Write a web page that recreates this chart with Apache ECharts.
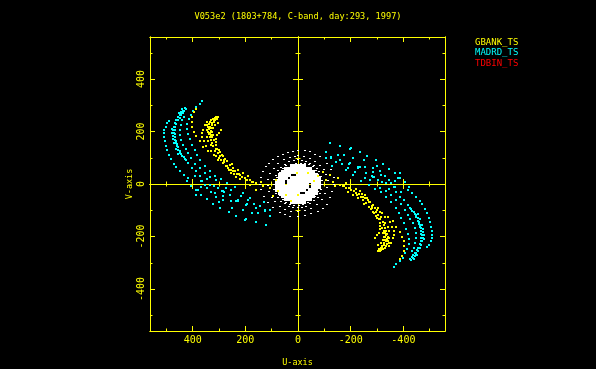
<!DOCTYPE html>
<html><head><meta charset="utf-8">
<style>html,body{margin:0;padding:0;background:#000}#c{width:596px;height:369px}</style>
<script src="https://cdn.jsdelivr.net/npm/echarts@6/dist/echarts.min.js"></script>
</head><body><div id="c"></div>
<script>
const titleText = "V053e2 (1803+784, C-band, day:293, 1997)";
const stationNames = ["GBANK_TS", "MADRD_TS", "TDBIN_TS"];
const majorTicks = [-400, -200, 0, 200, 400];
const minorTicks = [-500, -300, -100, 100, 300, 500];

const whiteRings = [
[-28,127],[0,127],[19,124],[38,120],[57,112],[76,105],[95,93],[110,80],[123,65],[133,48],[142,23],[143,-3],[139,-22],[130,-47],[114,-72],[95,-91],[70,-110],[51,-117],[32,-123],[0,-123],[-25,-121],[-51,-114],[-76,-104],[-95,-94],[-110,-79],[-123,-53],[-130,-28],[-137,-3],[-137,23],[-127,55],[-110,80],[-82,105],[-63,114],[-44,124],
[0,108],[-22,105],[-45,98],[-65,85],[-85,72],[-98,55],[-108,35],[-112,12],[-110,-12],[-103,-35],[-90,-58],[-72,-78],[-50,-92],[-28,-100],[0,-105],[25,-103],[48,-96],[68,-85],[88,-68],[100,-50],[110,-28],[115,-5],[113,18],[105,40],[92,60],[75,78],[55,92],[32,100],[12,106],
[0,92],[-16,90],[-32,86],[-47,80],[-60,70],[-72,58],[-80,46],[-87,30],[-92,14],[-92,-3],[-88,-20],[-82,-36],[-74,-50],[-62,-64],[-47,-76],[-32,-84],[-15,-89],[2,-90],[19,-88],[35,-84],[50,-76],[63,-66],[75,-52],[84,-37],[90,-20],[93,-2],[91,16],[85,32],[76,50],[63,64],[49,76],[34,84],[17,90],
[8,80],[-10,80],[-26,78],[-42,74],[-56,66],[-68,52],[-76,38],[-81,20],[-82,4],[-80,-14],[-74,-30],[-64,-48],[-50,-60],[-36,-72],[-20,-78],[-4,-81],[14,-80],[30,-77],[44,-70],[58,-58],[70,-44],[78,-28],[82,-10],[83,8],[79,26],[70,42],[58,58],[44,70],[28,76]
];
const whiteCore = [
[-23,68],[-11,68],[0,68],[11,68],[23,68],
[-46,57],[-34,57],[-23,57],[-11,57],[0,57],[11,57],[23,57],[34,57],[46,57],
[-57,46],[-46,46],[-34,46],[-23,46],[-11,46],[0,46],[11,46],[23,46],[34,46],[46,46],[57,46],
[-68,34],[-57,34],[-46,34],[-34,34],[-23,34],[-11,34],[0,34],[34,34],[46,34],[57,34],[68,34],
[-68,23],[-57,23],[-46,23],[-34,23],[-23,23],[-11,23],[0,23],[11,23],[23,23],[46,23],[57,23],[68,23],[-80,23],
[-80,11],[-68,11],[-57,11],[-46,11],[-34,11],[-23,11],[-11,11],[0,11],[11,11],[23,11],[34,11],[57,11],[68,11],[80,11],
[-80,0],[-68,0],[-57,0],[-34,0],[-23,0],[-11,0],[0,0],[11,0],[23,0],[34,0],[57,0],[68,0],[80,0],
[-80,-11],[-68,-11],[-57,-11],[-34,-11],[-23,-11],[-11,-11],[0,-11],[11,-11],[23,-11],[34,-11],[46,-11],[57,-11],[68,-11],[80,-11],
[-68,-23],[-57,-23],[-46,-23],[-23,-23],[-11,-23],[0,-23],[11,-23],[23,-23],[34,-23],[46,-23],[57,-23],[68,-23],[80,-23],
[-68,-34],[-57,-34],[-46,-34],[-34,-34],[0,-34],[11,-34],[23,-34],[34,-34],[46,-34],[57,-34],[68,-34],
[-57,-46],[-46,-46],[-34,-46],[-23,-46],[-11,-46],[0,-46],[11,-46],[23,-46],[34,-46],[46,-46],[57,-46],
[-46,-57],[-34,-57],[-23,-57],[-11,-57],[0,-57],[11,-57],[23,-57],[34,-57],[46,-57],
[-23,-68],[-11,-68],[0,-68],[11,-68],[23,-68]
];
const madrdLeft = [
[490,241],[497,232],[503,219],[507,207],[509,194],[509,179],[506,162],[502,146],[497,130],[490,111],[483,95],[472,77],[462,63],[447,48],[433,34],[417,22],[405,-6],[386,-24],[367,-41],[345,-57],[322,-75],[295,-91],[263,-107],[234,-121],[200,-136],[160,-146],[122,-155],
[430,289],[436,280],[443,273],[449,264],[455,255],[462,245],[468,232],[472,219],[474,207],[472,194],[474,181],[468,168],[464,156],[459,143],[455,130],[449,118],[440,107],[430,95],[417,80],[401,60],[386,48],[373,31],[363,10],[335,-3],[303,-15],[284,-28],[259,-41],[227,-60],[196,-79],[160,-92],[126,-98],
[426,286],[432,277],[438,270],[444,261],[450,252],[457,242],[463,229],[467,216],[468,204],[467,191],[468,178],[463,165],[459,153],[454,140],[449,127],[443,114],[434,104],[424,92],
[478,210],[478,195],[476,170],[470,155],[452,270],[441,285],[446,268],[464,135],[455,115],
[433,257],[439,245],[445,226],[447,207],[447,188],[443,168],[436,149],[426,133],[417,118],[405,99],[392,77],[373,61],[354,41],[335,26],[310,14],
[363,317],[373,306],[386,295],[398,280],[408,264],[415,247],[420,229],[420,209],[417,191],[411,171],[402,149],[392,128],[382,109],[371,90],[354,69],[335,50],[316,31],[291,19],
[390,30],[370,12],[345,18],[320,-8],[280,-30],[255,-22],[235,-64],[215,-45],[190,-60],[175,-110],[146,-85],[107,-123],[105,-100],[250,-90],[285,-60],[310,-48],[330,-30],[210,-100],[130,-70],[270,5],[240,-12],
[386,-41],[421,10],[354,-3],[316,-34],[287,-28],[284,-47],[253,-66],[227,-66],[193,-75],[152,-111],[126,-104],[196,-133],[209,-34],[183,-53],[272,-15],[379,-22],[345,-15],[369,-12],[300,-70],[168,-78]
];
const madrdRight = [
[-490,-241],[-497,-232],[-503,-219],[-507,-207],[-509,-194],[-509,-179],[-506,-162],[-502,-146],[-497,-130],[-490,-111],[-483,-95],[-472,-77],[-462,-63],[-447,-48],[-433,-34],[-417,-22],[-405,6],[-386,24],[-367,41],[-345,57],[-322,75],[-295,91],[-263,107],[-234,121],[-200,136],[-160,146],[-122,155],
[-430,-289],[-436,-280],[-443,-273],[-449,-264],[-455,-255],[-462,-245],[-468,-232],[-472,-219],[-474,-207],[-472,-194],[-474,-181],[-468,-168],[-464,-156],[-459,-143],[-455,-130],[-449,-118],[-440,-107],[-430,-95],[-417,-80],[-401,-60],[-386,-48],[-373,-31],[-363,-10],[-335,3],[-303,15],[-284,28],[-259,41],[-227,60],[-196,79],[-160,92],[-126,98],
[-426,-286],[-432,-277],[-438,-270],[-444,-261],[-450,-252],[-457,-242],[-463,-229],[-467,-216],[-468,-204],[-467,-191],[-468,-178],[-463,-165],[-459,-153],[-454,-140],[-449,-127],[-443,-114],[-434,-104],[-424,-92],
[-478,-210],[-478,-195],[-476,-170],[-470,-155],[-452,-270],[-441,-285],[-446,-268],[-464,-135],[-455,-115],
[-433,-257],[-439,-245],[-445,-226],[-447,-207],[-447,-188],[-443,-168],[-436,-149],[-426,-133],[-417,-118],[-405,-99],[-392,-77],[-373,-61],[-354,-41],[-335,-26],[-310,-14],
[-363,-317],[-373,-306],[-386,-295],[-398,-280],[-408,-264],[-415,-247],[-420,-229],[-420,-209],[-417,-191],[-411,-171],[-402,-149],[-392,-128],[-382,-109],[-371,-90],[-354,-69],[-335,-50],[-316,-31],[-291,-19],
[-390,-30],[-370,-12],[-345,-18],[-320,8],[-280,30],[-255,22],[-235,64],[-215,45],[-190,60],[-175,110],[-146,85],[-107,123],[-105,100],[-250,90],[-285,60],[-310,48],[-330,30],[-210,100],[-130,70],[-270,-5],[-240,12],
[-386,41],[-421,-10],[-354,3],[-316,34],[-287,28],[-284,47],[-253,66],[-227,66],[-193,75],[-152,111],[-126,104],[-196,133],[-209,34],[-183,53],[-272,15],[-379,22],[-345,15],[-369,12],[-300,70],[-168,78]
];
const gbankLeft = [
[303,255],[310,257],[316,251],[322,247],[329,242],[335,236],[339,228],[341,219],[339,209],[341,200],[338,190],[335,179],[331,168],[328,158],[322,146],[314,242],[326,232],[333,217],[331,202],[329,187],[337,214],[334,195],[325,178],
[330,150],[340,165],[345,180],[346,205],[344,225],[330,215],[328,225],[320,235],[308,247],[318,240],
[291,204],[300,196],[306,185],[310,172],[312,160],[310,147],[306,133],
[303,232],[314,224],[321,213],[325,200],[322,185],[319,168],
[345,238],[354,226],[360,207],[364,194],[363,179],[358,162],[350,143],[341,124],
[386,285],[395,273],[401,257],[403,238],[402,219],[395,200],[386,181],[373,162],[360,141],
[316,124],[303,118],[310,105],[297,105],[291,92],[303,90],[282,82],[269,86],[274,69],[259,73],[262,52],[246,61],[240,48],[228,54],[221,35],[208,41],[202,22],[189,29],[183,14],[170,6],[158,3],[329,124],[320,111],[285,105],[253,41],[236,26],[219,19],[311,135],[296,122],[276,96],[250,78],
[300,130],[290,110],[280,92],[268,70],[255,55],[243,38],[232,38],[214,28],[195,16],[176,8],[300,100],[285,80],[265,62],[245,50],[225,40],
[133,-7],[107,-16],[82,16],[76,-28],[44,-41],[95,-47],[4,42],[0,-43],[25,-66],[158,-22],[184,-3],[203,23],[140,8]
];
const gbankRight = [
[-303,-255],[-310,-257],[-316,-251],[-322,-247],[-329,-242],[-335,-236],[-339,-228],[-341,-219],[-339,-209],[-341,-200],[-338,-190],[-335,-179],[-331,-168],[-328,-158],[-322,-146],[-314,-242],[-326,-232],[-333,-217],[-331,-202],[-329,-187],[-337,-214],[-334,-195],[-325,-178],
[-330,-150],[-340,-165],[-345,-180],[-346,-205],[-344,-225],[-330,-215],[-328,-225],[-320,-235],[-308,-247],[-318,-240],
[-291,-204],[-300,-196],[-306,-185],[-310,-172],[-312,-160],[-310,-147],[-306,-133],
[-303,-232],[-314,-224],[-321,-213],[-325,-200],[-322,-185],[-319,-168],
[-345,-238],[-354,-226],[-360,-207],[-364,-194],[-363,-179],[-358,-162],[-350,-143],[-341,-124],
[-386,-285],[-395,-273],[-401,-257],[-403,-238],[-402,-219],[-395,-200],[-386,-181],[-373,-162],[-360,-141],
[-316,-124],[-303,-118],[-310,-105],[-297,-105],[-291,-92],[-303,-90],[-282,-82],[-269,-86],[-274,-69],[-259,-73],[-262,-52],[-246,-61],[-240,-48],[-228,-54],[-221,-35],[-208,-41],[-202,-22],[-189,-29],[-183,-14],[-170,-6],[-158,-3],[-329,-124],[-320,-111],[-285,-105],[-253,-41],[-236,-26],[-219,-19],[-311,-135],[-296,-122],[-276,-96],[-250,-78],
[-300,-130],[-290,-110],[-280,-92],[-268,-70],[-255,-55],[-243,-38],[-232,-38],[-214,-28],[-195,-16],[-176,-8],[-300,-100],[-285,-80],[-265,-62],[-245,-50],[-225,-40],
[-38,42],[-76,29],[-95,46],[-120,36],[-152,23],[-133,7],[-107,16],[-60,10],[-184,3],[-203,-23],[-140,-8]
];
const tdbinPoints = [];

const YEL = "#ffff00", CYA = "#00ffff", RED = "#ff0000", WHT = "#ffffff";
const MONO = "'DejaVu Sans Mono', monospace";
const xRange = {min: -558, max: 562}, yRange = {min: -560, max: 560};

function axis(range, extra, pos, offset, ticks, len, label, inverse) {
  return Object.assign({
    type: "value", min: range.min, max: range.max, inverse: inverse,
    position: pos, offset: offset, splitLine: {show: false},
    axisLine: {show: true, onZero: false, lineStyle: {color: YEL, width: 1}},
    axisTick: {show: true, inside: true, length: len, customValues: ticks, lineStyle: {color: YEL, width: 1}},
    axisLabel: label ? {show: true, customValues: majorTicks, color: YEL, fontFamily: MONO, fontSize: 10, margin: 4} : {show: false}
  }, extra);
}
const name = (text, gap) => ({name: text, nameLocation: "middle", nameGap: gap,
  nameTextStyle: {color: YEL, fontFamily: MONO, fontSize: 8.5}});

const xAxes = [
  axis(xRange, name("U-axis", 27), "bottom", 0, majorTicks, 5, true, true),
  axis(xRange, {}, "bottom", 0, minorTicks, 2.5, false, true),
  axis(xRange, {}, "top", 0, majorTicks, 5, false, true),
  axis(xRange, {}, "top", 0, minorTicks, 2.5, false, true),
  axis(xRange, {}, "bottom", -147, majorTicks, 5, false, true),
  axis(xRange, {}, "bottom", -147, minorTicks, 2.5, false, true),
  axis(xRange, {}, "top", -147, majorTicks, 5, false, true),
  axis(xRange, {}, "top", -147, minorTicks, 2.5, false, true)
];
const yBase = axis(yRange, name("V-axis", 16), "left", 0, majorTicks, 5, true, false);
yBase.axisLabel.rotate = 90;
const yAxes = [
  yBase,
  axis(yRange, {}, "left", 0, minorTicks, 2.5, false, false),
  axis(yRange, {}, "right", 0, majorTicks, 5, false, false),
  axis(yRange, {}, "right", 0, minorTicks, 2.5, false, false),
  axis(yRange, {}, "left", -148, majorTicks, 5, false, false),
  axis(yRange, {}, "left", -148, minorTicks, 2.5, false, false),
  axis(yRange, {}, "right", -147, majorTicks, 5, false, false),
  axis(yRange, {}, "right", -147, minorTicks, 2.5, false, false)
];
const dots = (nm, data, color, w, h) => ({
  type: "custom", name: nm, data: data, coordinateSystem: "cartesian2d",
  silent: true, animation: false, itemStyle: {color: color},
  encode: {x: 0, y: 1},
  renderItem: (params, api) => {
    const p = api.coord([api.value(0), api.value(1)]);
    return {type: "rect", silent: true,
      shape: {x: Math.round(p[0] - w / 2), y: Math.round(p[1] - h / 2), width: w, height: h},
      style: {fill: color}};
  }
});
const chart = echarts.init(document.getElementById("c"), null, {renderer: "canvas"});
chart.setOption({
  backgroundColor: "#000000",
  animation: false,
  title: {text: titleText, left: 298, top: 12, textAlign: "center", padding: 0,
    textStyle: {color: YEL, fontFamily: MONO, fontSize: 8.6, fontWeight: "normal"}},
  legend: {
    orient: "vertical", left: 470, top: 37, itemWidth: 0, itemHeight: 0, itemGap: 0,
    selectedMode: false, padding: 0,
    textStyle: {fontFamily: MONO, fontSize: 9, lineHeight: 10.5, padding: 0},
    data: [
      {name: stationNames[0], textStyle: {color: YEL}},
      {name: stationNames[1], textStyle: {color: CYA}},
      {name: stationNames[2], textStyle: {color: RED}}
    ]
  },
  grid: {left: 150, top: 37, width: 295, height: 294, outerBoundsMode: "none"},
  xAxis: xAxes,
  yAxis: yAxes,
  series: [
    dots("rings", whiteRings, WHT, 2, 1),
    dots("core", whiteCore, WHT, 4, 4),
    dots(stationNames[1], madrdLeft.concat(madrdRight), CYA, 2, 2),
    dots(stationNames[2], tdbinPoints, RED, 2, 1),
    dots(stationNames[0], gbankLeft.concat(gbankRight), YEL, 2, 2)
  ]
});
</script></body></html>
